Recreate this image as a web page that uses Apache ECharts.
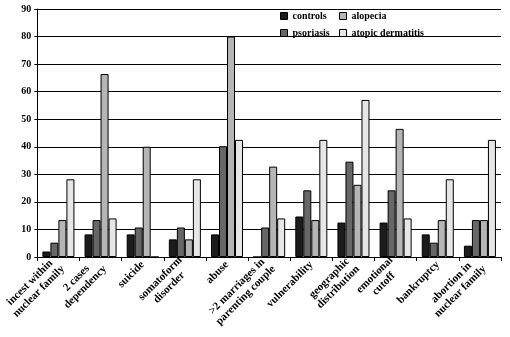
<!DOCTYPE html>
<html><head><meta charset="utf-8">
<script src="https://cdn.jsdelivr.net/npm/echarts@6/dist/echarts.min.js"></script>
<style>html,body{margin:0;padding:0;background:#fff}#c{width:510px;height:337px}</style>
</head><body><div id="c"></div>
<script>
const categories = ["incest within\nnuclear family","2 cases\ndependency","suicide","somatoform\ndisorder","abuse",">2 marriages in\nparenting couple","vulnerability","geographic\ndistribution","emotional\ncutoff","bankruptcy","abortion in\nnuclear family"];
const controls = [2, 8.2, 8.2, 6.4, 8.2, 0, 14.7, 12.5, 12.5, 8.2, 4.1];
const psoriasis = [5.2, 13.4, 10.7, 10.7, 40.2, 10.7, 24.2, 34.6, 24.2, 5.2, 13.4];
const alopecia = [13.4, 66.4, 40, 6.4, 80, 32.8, 13.4, 26.2, 46.5, 13.4, 13.4];
const atopic = [28.2, 14, 0, 28.2, 42.5, 14, 42.5, 57, 14, 28.2, 42.5];
const yTicks = {min: 0, max: 90, interval: 10};

const font = '"Liberation Serif", "DejaVu Serif", serif';
const chart = echarts.init(document.getElementById('c'));
function s(name, data, color){
  return {name, type:'bar', data, barGap:'0%', barCategoryGap:'24%',
    itemStyle:{color, borderColor:'#000', borderWidth:1}};
}
const legStyle = {fontFamily:font, fontWeight:'bold', fontSize:10, color:'#000'};
const legBase = {orient:'vertical', top:9, itemWidth:7, itemHeight:7, itemGap:7, icon:'rect',
  itemStyle:{borderColor:'#000',borderWidth:1}, textStyle:legStyle, padding:[2,2,2,2]};
chart.setOption({
  animation:false,
  textStyle:{fontFamily:font},
  grid:{left:33, right:9, top:9, bottom:80},
  legend:[
    Object.assign({data:['controls','psoriasis'], left:278}, legBase),
    Object.assign({data:['alopecia','atopic dermatitis'], left:337}, legBase)
  ],
  xAxis:{type:'category', data:categories,
    axisLine:{lineStyle:{color:'#000', width:1}},
    axisTick:{show:true, length:4, lineStyle:{color:'#000'}},
    axisLabel:{rotate:45, interval:0, fontFamily:font, fontWeight:'bold', fontSize:11, color:'#000', margin:6,
      formatter:function(v){return v.split('\n').map(l=>'{c|'+l+'}').join('\n');},
      rich:{c:{align:'center', fontFamily:font, fontWeight:'bold', fontSize:11, color:'#000', lineHeight:12.5}}}},
  yAxis:{type:'value', min:yTicks.min, max:yTicks.max, interval:yTicks.interval,
    axisLine:{show:true, lineStyle:{color:'#000'}},
    axisTick:{show:true, length:3, lineStyle:{color:'#000'}},
    splitLine:{lineStyle:{color:'#000', width:1}},
    axisLabel:{fontFamily:font, fontWeight:'bold', fontSize:10, color:'#000', margin:6}},
  series:[s('controls',controls,'#1c1c1c'), s('psoriasis',psoriasis,'#676767'), s('alopecia',alopecia,'#b5b5b5'), s('atopic dermatitis',atopic,'#e6e6e6')]
});
</script></body></html>
